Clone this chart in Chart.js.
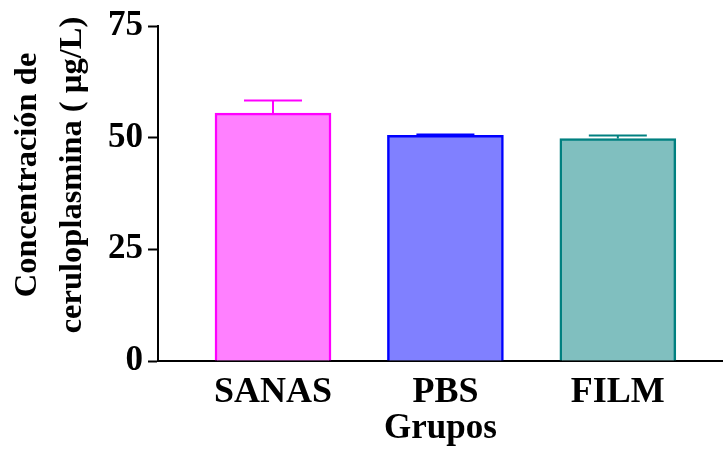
<!DOCTYPE html>
<html>
<head>
<meta charset="utf-8">
<script src="https://cdn.jsdelivr.net/npm/chart.js@4"></script>
<style>
html,body{margin:0;padding:0;background:#fff;}
#wrap{width:723px;height:450px;position:relative;}
</style>
</head>
<body>
<div id="wrap"><canvas id="c" width="723" height="450"></canvas></div>
<script>
const categories = ['SANAS', 'PBS', 'FILM'];
const means = [55.5, 50.5, 49.8];
const sems = [2.8, 0.2, 0.7];
const yTicks = [0, 25, 50, 75];
const yTitleLines = ['Concentración de', 'ceruloplasmina ( µg/L)'];
const xTitle = 'Grupos';
const fillColors = ['#FF80FF', '#8080FF', '#80BFBF'];
const borderColors = ['#FF00FF', '#0000FF', '#008080'];

const serif = "'Liberation Serif', 'Times New Roman', serif";

const errorBars = {
  id: 'errorBars',
  afterDatasetsDraw(chart) {
    const ctx = chart.ctx;
    const xs = chart.scales.x, ys = chart.scales.y;
    ctx.save();
    ctx.lineWidth = 2;
    means.forEach((m, i) => {
      const x = xs.getPixelForValue(i);
      const yb = ys.getPixelForValue(m);
      const yt = ys.getPixelForValue(m + sems[i]);
      ctx.strokeStyle = borderColors[i];
      ctx.beginPath();
      ctx.moveTo(x, yb); ctx.lineTo(x, yt);
      ctx.moveTo(x - 29, yt); ctx.lineTo(x + 29, yt);
      ctx.stroke();
    });
    ctx.restore();
  }
};

const yTitlePlugin = {
  id: 'yTitlePlugin',
  afterDraw(chart) {
    const ctx = chart.ctx;
    ctx.save();
    ctx.fillStyle = '#000';
    ctx.font = "bold 32.5px " + serif;
    ctx.textAlign = 'center';
    ctx.textBaseline = 'middle';
    const xs = [27.5, 72.5];
    yTitleLines.forEach((t, i) => {
      ctx.save();
      ctx.translate(xs[i], 175);
      ctx.rotate(-Math.PI / 2);
      ctx.fillText(t, 0, 0);
      ctx.restore();
    });
    ctx.restore();
  }
};

new Chart(document.getElementById('c'), {
  type: 'bar',
  data: {
    datasets: [{
      data: means.map((v, i) => ({x: i, y: v})),
      backgroundColor: fillColors,
      borderColor: borderColors,
      borderWidth: 2.5,
      borderSkipped: 'bottom',
      barThickness: 116
    }]
  },
  options: {
    responsive: false,
    animation: false,
    devicePixelRatio: 1,
    layout: {padding: {top: 25, right: 0, left: 0, bottom: 0}},
    plugins: {legend: {display: false}, tooltip: {enabled: false}},
    scales: {
      x: {
        type: 'linear',
        offset: false,
        min: -0.667,
        max: 2.61,
        afterBuildTicks(scale) { scale.ticks = categories.map((c, i) => ({value: i})); },
        afterFit(scale) { scale.height = 89; },
        ticks: {
          callback: (v) => categories[v] ?? '',
          color: '#000',
          font: {family: serif, size: 36, weight: 'bold'},
          padding: 10,
          maxRotation: 0,
          autoSkip: false
        },
        grid: {display: true, drawOnChartArea: false, drawTicks: false},
        border: {display: true, color: '#000', width: 2},
        title: {
          display: true,
          text: xTitle,
          color: '#000',
          font: {family: serif, size: 35, weight: 'bold'},
          padding: {top: 3, bottom: 0}
        }
      },
      y: {
        min: 0,
        max: 75,
        afterBuildTicks(scale) { scale.ticks = yTicks.map(v => ({value: v})); },
        afterFit(scale) { scale.width = 158; },
        ticks: {
          color: '#000',
          font: {family: serif, size: 35, weight: 'bold'},
          padding: 5
        },
        grid: {display: true, drawOnChartArea: false, drawTicks: true, tickLength: 10, tickColor: '#000', tickWidth: 2},
        border: {display: true, color: '#000', width: 2},
        title: {display: false}
      }
    }
  },
  plugins: [errorBars, yTitlePlugin]
});
</script>
</body>
</html>
